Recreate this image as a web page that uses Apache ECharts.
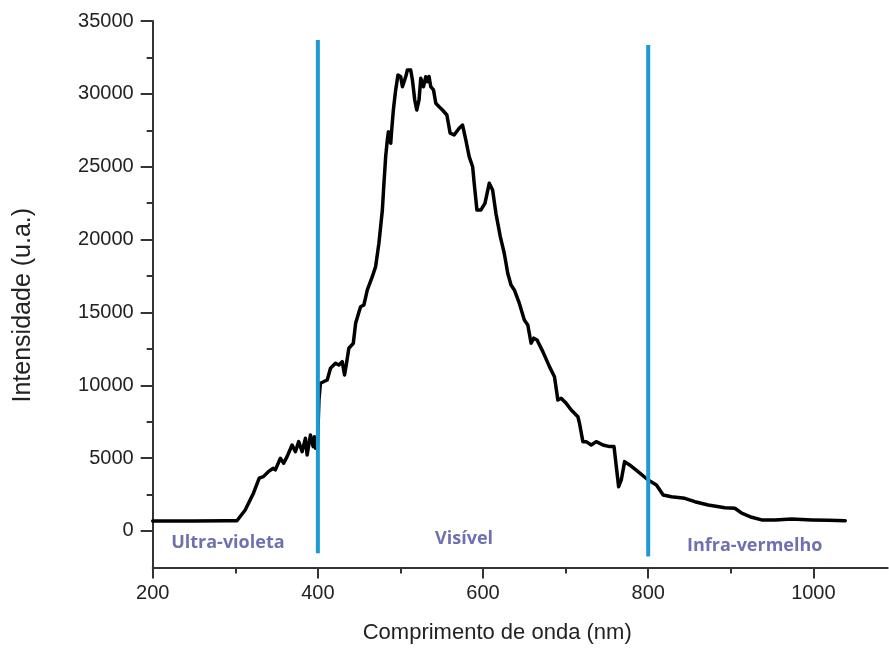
<!DOCTYPE html>
<html>
<head>
<meta charset="utf-8">
<script src="https://cdn.jsdelivr.net/npm/echarts@6/dist/echarts.min.js"></script>
<style>
  html, body { margin: 0; padding: 0; background: #fff; }
  #chart { width: 889px; height: 650px; }
</style>
</head>
<body>
<div id="chart"></div>
<script>
// Emission spectrum: wavelength (nm) vs intensity (a.u.)
const wavelengthNm = [
  200, 250, 290, 302, 312, 322, 329, 334, 340, 346, 348.5, 354.6, 358.6, 362.7, 368.8,
  372.8, 376.8, 380.9, 384.9, 387, 391, 394.3, 395.9, 397.1, 399.5, 401.3, 403.1, 405.2,
  411.3, 415.3, 421.3, 425.4, 429.5, 432.3, 434.7, 437.5, 442.9, 445.7, 451.7, 455.7,
  459.9, 465.9, 469.9, 473.9, 478.1, 480, 482.1, 484.1, 485.4, 488.2, 489.4, 491.4, 494.2,
  497, 500.3, 502.4, 506.4, 508.4, 512.4, 514.5, 517.3, 519.7, 522.5, 524.6, 527.9, 530.7,
  532.7, 534.7, 536.7, 540, 542.8, 546.8, 550.9, 556.2, 560.2, 565, 571.1, 575.2, 579.2,
  583.2, 587.4, 589.3, 592.6, 597.5, 602.3, 607.5, 611.6, 615.6, 620.9, 625.7, 629.9,
  633.9, 637.9, 643.9, 650, 654.2, 658.2, 661.4, 665.4, 672.4, 680.4, 686.5, 690.6, 694.6,
  700.7, 706.8, 714.9, 716.8, 720.9, 724.9, 731, 737.1, 745.2, 753.2, 758.6, 761.4, 764.2,
  767.4, 771.4, 777.5, 787.7, 799.9, 810, 818.1, 828.2, 844.3, 856.5, 872.7, 892.9, 905,
  913.2, 925.3, 937.4, 953.6, 973.8, 998.1, 1018.4, 1038.6
];
const intensity = [
  690, 690, 695, 700, 1440, 2590, 3620, 3730, 4070, 4300, 4190, 4990, 4650, 5100, 5900,
  5440, 6130, 5440, 6360, 5220, 6590, 5790, 6470, 5680, 5830, 9000, 10140, 10250,
  10360, 11170, 11510, 11390, 11620, 10710, 11510, 12540, 12880, 14250, 15390, 15510,
  16540, 17450, 18140, 19750, 22030, 23860, 25690, 26830, 27400, 26610, 27520, 28890, 30270,
  31300, 31180, 30490, 31180, 31640, 31640, 30950, 29580, 28890, 29580, 31070, 30490, 31180,
  30840, 31180, 30490, 30270, 29350, 29120, 28890, 28550, 27300, 27180, 27640, 27860, 26830,
  25690, 25000, 23860, 22030, 22030, 22490, 23860, 23400, 21800, 20200, 19060, 17690,
  16880, 16540, 15630, 14480, 14140, 12880, 13230, 13110, 12310, 11280, 10590, 8990, 9110,
  8760, 8300, 7840, 7390, 6130, 6130, 5900, 6130, 5900, 5790, 5790, 4410, 3040,
  3500, 4760, 4530, 4070, 3500, 3160, 2470, 2350, 2240, 2010, 1780, 1600, 1560,
  1220, 940, 760, 760, 820, 760, 730, 710
];

// Region boundaries (nm) with the vertical extent of each marker line
const boundaryNm = [400, 800];
const boundaryLow = [-1530, -1760];
const boundaryHigh = [33700, 33350];

// Region names and where they sit (nm, intensity)
const regionNames = ['Ultra-violeta', 'Visível', 'Infra-vermelho'];
const regionNm = [291, 577, 929];
const regionLevel = [-844, -570, -1010];

// Axis ticks
const xMajorTicks = [200, 400, 600, 800, 1000];
const xMinorTicks = [300, 500, 700, 900];
const yMajorTicks = [0, 5000, 10000, 15000, 20000, 25000, 30000, 35000];
const yMinorTicks = [2500, 7500, 12500, 17500, 22500, 27500, 32500];

const axisColor = '#333';
const textFont = 'Liberation Sans';
const plain = v => String(v);

const chart = echarts.init(document.getElementById('chart'), null, { renderer: 'canvas' });

const spectrum = wavelengthNm.map((w, i) => [w, intensity[i]]);

const boundarySeries = boundaryNm.map((w, i) => ({
  type: 'line',
  data: [[w, boundaryLow[i]], [w, boundaryHigh[i]]],
  symbol: 'none',
  z: 5,
  lineStyle: { color: '#1d9ad6', width: 4 },
  silent: true
}));

const makeX = (ticks, len, main) => ({
  type: 'value',
  min: 200,
  max: 1090,
  position: 'bottom',
  axisLine: { show: main, onZero: false, lineStyle: { color: axisColor, width: 2 } },
  axisTick: { show: true, inside: false, length: len, customValues: ticks, lineStyle: { color: axisColor, width: 2 } },
  axisLabel: main ? { show: true, customValues: xMajorTicks, formatter: plain, fontFamily: textFont, fontSize: 20, color: '#222', margin: 16 } : { show: false },
  splitLine: { show: false },
  name: main ? 'Comprimento de onda (nm)' : '',
  nameLocation: 'middle',
  nameGap: 55,
  nameTextStyle: { fontFamily: textFont, fontSize: 22, color: '#222', padding: [0, 46, 0, 0] }
});

const makeY = (ticks, len, main) => ({
  type: 'value',
  min: -2500,
  max: 35000,
  position: 'left',
  axisLine: { show: main, onZero: false, lineStyle: { color: axisColor, width: 2 } },
  axisTick: { show: true, inside: false, length: len, customValues: ticks, lineStyle: { color: axisColor, width: 2 } },
  axisLabel: main ? { show: true, customValues: yMajorTicks, formatter: plain, fontFamily: textFont, fontSize: 20, color: '#222', margin: 19 } : { show: false },
  splitLine: { show: false },
  name: main ? 'Intensidade (u.a.)' : '',
  nameLocation: 'middle',
  nameGap: 117,
  nameRotate: 90,
  nameTextStyle: { fontFamily: textFont, fontSize: 25, color: '#222', padding: [0, 22, 0, 0] }
});

chart.setOption({
  animation: false,
  backgroundColor: '#fff',
  grid: { left: 152.7, right: 1.3, top: 21, bottom: 82.6, containLabel: false },
  xAxis: [makeX(xMajorTicks, 11, true), makeX(xMinorTicks, 6, false)],
  yAxis: [makeY(yMajorTicks, 12, true), makeY(yMinorTicks, 6, false)],
  series: [
    {
      type: 'line',
      data: spectrum,
      symbol: 'none',
      z: 3,
      lineStyle: { color: '#000', width: 3.5, join: 'round', cap: 'round' }
    },
    ...boundarySeries,
    {
      type: 'scatter',
      symbolSize: 0,
      z: 6,
      data: regionNames.map((n, i) => ({ name: n, value: [regionNm[i], regionLevel[i]] })),
      label: {
        show: true,
        position: 'inside',
        formatter: p => p.name,
        fontFamily: 'Open Sans',
        fontWeight: 'bold',
        fontSize: 18,
        color: '#4a4d9e'
      },
      silent: true
    }
  ]
});
</script>
</body>
</html>
